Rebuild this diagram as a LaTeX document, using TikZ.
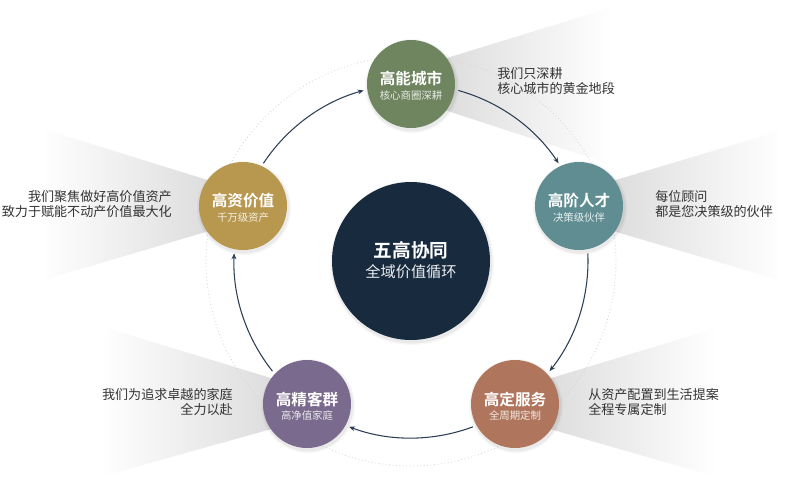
\documentclass[tikz,border=0pt]{standalone}
\usepackage{fontspec}
\newfontfamily\cjk{Noto Sans CJK SC}[BoldFont={Noto Sans CJK SC Bold}]
\usetikzlibrary{arrows.meta}
\definecolor{navy}{HTML}{172A3E}
\definecolor{olive}{HTML}{6E8560}
\definecolor{tealc}{HTML}{5F8D92}
\definecolor{gold}{HTML}{B8974F}
\definecolor{plum}{HTML}{7A6A8D}
\definecolor{terra}{HTML}{B0765D}
\definecolor{ringc}{HTML}{2D3F55}
\definecolor{txt}{HTML}{333333}
\begin{document}
\begin{tikzpicture}[x=0.75pt,y=-0.75pt,
  sat/.style={circle, inner sep=0pt, minimum size=66pt, fill=#1},
  hub/.style={circle, inner sep=0pt, minimum size=118.5pt, fill=navy},
  ttl/.style={text=white, inner sep=0pt, font=\cjk\bfseries\fontsize{11.7}{13}\selectfont},
  subt/.style={text=white, text opacity=0.85, inner sep=0pt, font=\cjk\fontsize{7.8}{9}\selectfont},
  hubttl/.style={text=white, inner sep=0pt, font=\cjk\bfseries\fontsize{14}{16}\selectfont},
  hubsub/.style={text=white, text opacity=0.92, inner sep=0pt, font=\cjk\fontsize{11.4}{13}\selectfont},
  desc/.style={text=txt, inner sep=0pt, font=\cjk\fontsize{9.8}{10.9}\selectfont},
  ring/.style={draw=ringc, line width=0.8pt, -{Stealth[length=4.5pt,width=3.6pt]}},
]
\useasboundingbox (0,0) rectangle (800,486);
\fill[white] (0,0) rectangle (800,486);

% gray beams
\shade[left color=gray!32, right color=white] (411,69) -- (613,7) -- (613,165) -- (411,99) -- cycle;
\shade[left color=gray!32, right color=white] (579,191) -- (783,130) -- (783,281) -- (579,221) -- cycle;
\shade[left color=gray!32, right color=white] (515,389) -- (717,328) -- (717,477) -- (515,419) -- cycle;
\shade[left color=white, right color=gray!32] (243,191) -- (40,128) -- (40,281) -- (243,221) -- cycle;
\shade[left color=white, right color=gray!32] (307,389) -- (100,326) -- (100,477) -- (307,419) -- cycle;

% faint dotted circle
\coordinate (C) at (411,261);
\draw[gray!35, dotted, line width=0.6pt] (C) circle[radius=205];

% soft shadows
\foreach \x/\y/\r in {411/261/79, 411/84/44, 579/206/44, 515/404/44, 307/404/44, 243/206/44}{
  \fill[black, opacity=0.03] (\x+1,\y+2) circle[radius=\r+3];
  \fill[black, opacity=0.05] (\x+1,\y+2) circle[radius=\r+1.5];
}

% nodes
\node[hub] (hub) at (C) {};
\node[sat=olive] (A) at (411,84) {};
\node[sat=tealc] (B) at (579,206) {};
\node[sat=terra] (D) at (515,404) {};
\node[sat=plum]  (F) at (307,404) {};
\node[sat=gold]  (E) at (243,206) {};

\node[hubttl] (hubT) at (411,250) {五高协同};
\node[hubsub] (hubS) at (411,272) {全域价值循环};

\node[ttl] (AT) at (411,79) {高能城市};
\node[subt] (AS) at (411,96) {核心商圈深耕};
\node[ttl] (BT) at (579,201) {高阶人才};
\node[subt] (BS) at (579,218) {决策级伙伴};
\node[ttl] (DT) at (515,399) {高定服务};
\node[subt] (DS) at (515,416) {全周期定制};
\node[ttl] (FT) at (307,399) {高精客群};
\node[subt] (FS) at (307,416) {高净值家庭};
\node[ttl] (ET) at (243,201) {高资价值};
\node[subt] (ES) at (243,218) {千万级资产};

% descriptions
\node[desc, anchor=west, align=left] (Ad) at (497,81) {我们只深耕\\核心城市的黄金地段};
\node[desc, anchor=west, align=left] (Bd) at (655,204) {每位顾问\\都是您决策级的伙伴};
\node[desc, anchor=west, align=left] (Dd) at (588,402) {从资产配置到生活提案\\全程专属定制};
\node[desc, anchor=east, align=right] (Fd) at (233,402) {我们为追求卓越的家庭\\全力以赴};
\node[desc, anchor=east, align=right] (Ed) at (172,204) {我们聚焦做好高价值资产\\致力于赋能不动产价值最大化};

% ring arrows
\path (C) ++(-74.5:177) coordinate (ab);
\path (C) ++(-2.5:177) coordinate (bd);
\path (C) ++(69.5:177) coordinate (df);
\path (C) ++(141.5:177) coordinate (fe);
\path (C) ++(213.5:177) coordinate (ea);
\draw[ring] (ab) arc[start angle=-74.5, end angle=-33.5, radius=177];
\draw[ring] (bd) arc[start angle=-2.5, end angle=38.5, radius=177];
\draw[ring] (df) arc[start angle=69.5, end angle=110.5, radius=177];
\draw[ring] (fe) arc[start angle=141.5, end angle=182.5, radius=177];
\draw[ring] (ea) arc[start angle=213.5, end angle=254.5, radius=177];
\end{tikzpicture}
\end{document}
